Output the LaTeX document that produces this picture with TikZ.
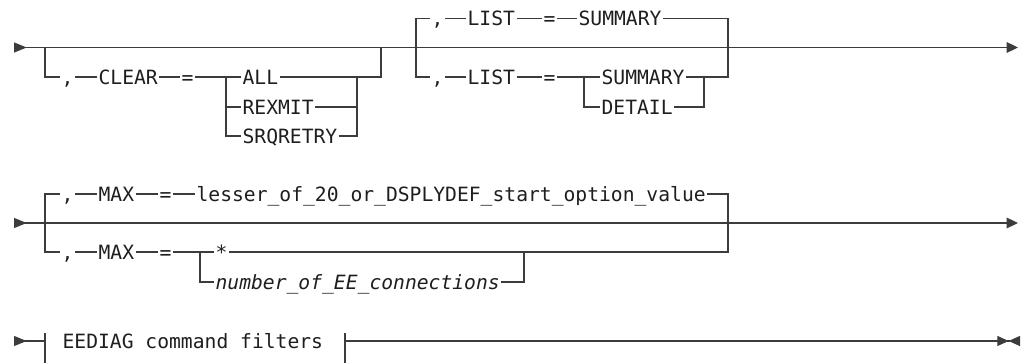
\documentclass[tikz,border=0pt]{standalone}
\usepackage{fontspec}
\usetikzlibrary{arrows.meta}
\newfontfamily\railfont{DejaVu Sans Mono}
\definecolor{railink}{HTML}{3C3C3C}
\definecolor{railtext}{HTML}{1E1E1E}

\begin{document}
\begin{tikzpicture}[
  x=0.75pt, y=-0.75pt,
  font=\railfont\fontsize{14.75}{16}\selectfont,
  tok/.style={anchor=west, inner xsep=1pt, inner ysep=0pt, text height=10.8pt,
              text depth=0pt, text=railtext},
  rail/.style={draw=railink, line width=0.8pt},
  railin/.style={{Triangle[reversed,length=9.5pt,width=7.5pt]}-},
  railthru/.style={{Triangle[reversed,length=9.5pt,width=7.5pt]}-{Triangle[length=8.5pt,width=8pt]}},
  railend/.style={-{Triangle[length=8.5pt,width=7.5pt]Triangle[reversed,length=8.5pt,width=7.5pt]}},
]
\useasboundingbox (0,0) rectangle (1026,363);

% ---- row 1: CLEAR and LIST ----
\coordinate (r1in)  at (14,47.5);
\coordinate (r1out) at (1018,47.5);
\coordinate (r1a)   at (45,47.5);
\coordinate (r1b)   at (381,47.5);
\coordinate (r1c)   at (416,47.5);
\coordinate (r1d)   at (728,47.5);
\coordinate (c1s)   at (226,77);
\coordinate (c1e)   at (357,77);
\coordinate (c3s)   at (584,77);
\coordinate (c3e)   at (704,77);

\node[tok] (cm1)    at (60,77)    {,};
\node[tok] (clear)  at (97,77)    {CLEAR};
\node[tok] (eq1)    at (180,77)   {=};
\node[tok] (all)    at (241,77)   {ALL};
\node[tok] (rexmit) at (241,107)  {REXMIT};
\node[tok] (srq)    at (241,136)  {SRQRETRY};

\node[tok] (cm2)    at (430,18.5) {,};
\node[tok] (list1)  at (466,18.5) {LIST};
\node[tok] (eq2)    at (542,18.5) {=};
\node[tok] (sum1)   at (577,18.5) {SUMMARY};
\node[tok] (cm3)    at (430,77)   {,};
\node[tok] (list2)  at (466,77)   {LIST};
\node[tok] (eq3)    at (542,77)   {=};
\node[tok] (sum2)   at (600,77)   {SUMMARY};
\node[tok] (det)    at (600,107)  {DETAIL};

\draw[rail, railthru] (r1in) -- (r1out);
\draw[rail] (r1a) |- (cm1.west);
\draw[rail] (cm1) -- (clear);
\draw[rail] (clear) -- (eq1);
\draw[rail] (eq1) -- (all);
\draw[rail] (c1s) |- (srq.west);
\draw[rail] (c1s |- rexmit.west) -- (rexmit.west);
\draw[rail] (all.east) -| (r1b);
\draw[rail] (srq.east) -| (c1e);
\draw[rail] (rexmit.east) -- (rexmit.east -| c1e);

\draw[rail] (cm2.west) -| (r1c) |- (cm3.west);
\draw[rail] (cm2) -- (list1);
\draw[rail] (list1) -- (eq2);
\draw[rail] (eq2) -- (sum1);
\draw[rail] (sum1.east) -| (r1d);
\draw[rail] (cm3) -- (list2);
\draw[rail] (list2) -- (eq3);
\draw[rail] (eq3) -- (sum2);
\draw[rail] (sum2.east) -| (r1d);
\draw[rail] (c3s) |- (det.west);
\draw[rail] (det.east) -| (c3e);

% ---- row 2: MAX ----
\coordinate (r2in)  at (14,223);
\coordinate (r2out) at (1018,223);
\coordinate (r2a)   at (45,223);
\coordinate (r2b)   at (728,223);
\coordinate (c5s)   at (200,252);
\coordinate (c5e)   at (524,252);

\node[tok] (cm4)    at (60,194)   {,};
\node[tok] (max1)   at (97,194)   {MAX};
\node[tok] (eq4)    at (158,194)  {=};
\node[tok] (lesser) at (195,194)  {lesser\_of\_20\_or\_DSPLYDEF\_start\_option\_value};
\node[tok] (cm5)    at (60,252)   {,};
\node[tok] (max2)   at (97,252)   {MAX};
\node[tok] (eq5)    at (158,252)  {=};
\node[tok] (star)   at (214,252)  {*};
\node[tok, font=\railfont\itshape\fontsize{14.75}{16}\selectfont] (conn) at (214,282) {number\_of\_EE\_connections};

\draw[rail, railthru] (r2in) -- (r2out);
\draw[rail] (cm4.west) -| (r2a) |- (cm5.west);
\draw[rail] (cm4) -- (max1);
\draw[rail] (max1) -- (eq4);
\draw[rail] (eq4) -- (lesser);
\draw[rail] (lesser.east) -| (r2b) |- (star.east);
\draw[rail] (cm5) -- (max2);
\draw[rail] (max2) -- (eq5);
\draw[rail] (eq5) -- (star);
\draw[rail] (c5s) |- (conn.west);
\draw[rail] (conn.east) -| (c5e);

% ---- row 3: fragment reference ----
\coordinate (r3in)  at (14,341);
\coordinate (r3a)   at (45,341);
\coordinate (r3b)   at (345,341);
\coordinate (r3out) at (1020,341);
\coordinate (f1t)   at (45,333);
\coordinate (f1b)   at (45,363);
\coordinate (f2t)   at (345,333);
\coordinate (f2b)   at (345,363);

\node[tok] (frag)   at (61,341)   {EEDIAG command filters};

\draw[rail, railin] (r3in) -- (r3a);
\draw[rail] (f1t) -- (f1b);
\draw[rail] (f2t) -- (f2b);
\draw[rail, railend] (r3b) -- (r3out);

\end{tikzpicture}
\end{document}
